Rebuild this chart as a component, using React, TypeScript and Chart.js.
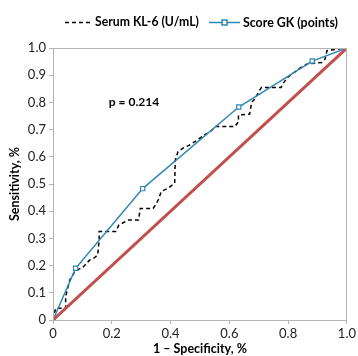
import React, { useEffect, useRef } from "react";
import { Chart, registerables } from "chart.js";

Chart.register(...registerables);

const klX = [0, 0.009, 0.043, 0.043, 0.057, 0.074, 0.09, 0.1, 0.124, 0.14, 0.152, 0.157, 0.157, 0.213, 0.224, 0.258, 0.291, 0.297, 0.341, 0.358, 0.368, 0.391, 0.414, 0.416, 0.425, 0.441, 0.464, 0.492, 0.514, 0.535, 0.552, 0.619, 0.631, 0.631, 0.669, 0.676, 0.686, 0.709, 0.776, 0.782, 0.798, 0.836, 0.865, 0.915, 0.926, 0.932, 0.966, 1];
const klY = [0, 0.043, 0.043, 0.086, 0.147, 0.178, 0.188, 0.191, 0.22, 0.228, 0.239, 0.294, 0.325, 0.325, 0.349, 0.368, 0.368, 0.41, 0.41, 0.441, 0.472, 0.484, 0.503, 0.588, 0.618, 0.631, 0.643, 0.662, 0.68, 0.692, 0.711, 0.711, 0.729, 0.754, 0.757, 0.8, 0.812, 0.855, 0.855, 0.868, 0.892, 0.923, 0.941, 0.947, 0.96, 0.99, 0.996, 1];
const gkX = [0, 0.077, 0.305, 0.632, 0.882, 1];
const gkY = [0, 0.19, 0.483, 0.783, 0.952, 1];
const refX = [0, 1];
const refY = [0, 1];
const seriesNames = ["Serum KL-6 (U/mL)", "Score GK (points)"];
const pText = "p = 0.214";
const xTitle = "1 \u2013 Specificity, %";
const yTitle = "Sensitivity, %";

const FONT = "Lato, 'Open Sans', sans-serif";
const BLUE = "#2F86B3";
const RED = "#C0504D";

const pts = (xs: number[], ys: number[]) => xs.map((x, i) => ({ x, y: ys[i] }));

export default function App() {
  const ref = useRef<HTMLCanvasElement>(null);
  useEffect(() => {
    document.body.style.margin = "0";
    const fitText = (ctx: any, text: string, x: number, y: number, w: number) => {
      ctx.font = `bold 14px ${FONT}`;
      const m = ctx.measureText(text).width;
      const size = Math.min(15, (14 * w) / m);
      ctx.font = `bold ${size}px ${FONT}`;
      ctx.fillText(text, x, y);
    };
    const extra = {
      id: "extra",
      afterDraw(chart: any) {
        const ctx = chart.ctx;
        const a = chart.chartArea;
        const xs = chart.scales.x;
        const ys = chart.scales.y;
        ctx.save();
        ctx.strokeStyle = "#B4B4B4";
        ctx.lineWidth = 1;
        ctx.strokeRect(a.left + 0.5, a.top + 0.5, a.right - a.left - 1, a.bottom - a.top);
        // p text
        ctx.fillStyle = "#000";
        ctx.font = `bold 12px ${FONT}`;
        ctx.textAlign = "left";
        ctx.textBaseline = "middle";
        ctx.fillText(pText, xs.getPixelForValue(0.19), ys.getPixelForValue(0.8));
        // legend
        const ly = 22.5;
        ctx.strokeStyle = "#000";
        ctx.lineWidth = 1.5;
        ctx.setLineDash([4, 3]);
        ctx.beginPath();
        ctx.moveTo(65, ly);
        ctx.lineTo(90, ly);
        ctx.stroke();
        ctx.setLineDash([]);
        fitText(ctx, seriesNames[0], 95, ly, 104);
        ctx.strokeStyle = BLUE;
        ctx.beginPath();
        ctx.moveTo(209, ly);
        ctx.lineTo(240, ly);
        ctx.stroke();
        ctx.fillStyle = "#fff";
        ctx.fillRect(222, ly - 2.5, 5, 5);
        ctx.strokeRect(222, ly - 2.5, 5, 5);
        ctx.fillStyle = "#000";
        fitText(ctx, seriesNames[1], 243, ly, 95);
        ctx.restore();
      },
    };
    const chart = new Chart(ref.current!, {
      type: "line",
      data: {
        datasets: [
          {
            label: seriesNames[0],
            data: pts(klX, klY),
            borderColor: "#000",
            borderWidth: 1.5,
            borderDash: [4, 3],
            pointRadius: 0,
            tension: 0,
            order: 2,
          },
          {
            label: seriesNames[1],
            data: pts(gkX, gkY),
            borderColor: BLUE,
            borderWidth: 1.5,
            pointStyle: "rect",
            pointRadius: 3,
            pointBorderWidth: 1.2,
            pointBackgroundColor: "#fff",
            pointBorderColor: BLUE,
            tension: 0,
            order: 1,
          },
          {
            label: "ref",
            data: pts(refX, refY),
            borderColor: RED,
            borderWidth: 3,
            pointRadius: 0,
            order: 0,
          },
        ],
      },
      options: {
        animation: false,
        responsive: false,
        layout: { padding: { top: 48, right: 6, left: 0, bottom: 0 } },
        plugins: { legend: { display: false }, tooltip: { enabled: false } },
        scales: {
          x: {
            type: "linear",
            min: 0,
            max: 1,
            afterFit: (s: any) => { s.height = 36; },
            grid: { display: true, drawOnChartArea: false, drawTicks: true, tickLength: 4, color: "#B4B4B4" },
            border: { display: false },
            ticks: {
              stepSize: 0.2,
              padding: 2,
              color: "#222",
              font: { family: FONT, size: 13 },
              callback: (v: any) => (v === 0 ? "0" : Number(v).toFixed(1)),
            },
            title: { display: true, text: xTitle, color: "#000", font: { family: FONT, size: 12.5, weight: "bold" }, padding: { top: 0, bottom: 0 } },
          },
          y: {
            type: "linear",
            min: 0,
            max: 1,
            afterFit: (s: any) => { s.width = 53; },
            grid: { display: true, drawOnChartArea: false, drawTicks: true, tickLength: 4, color: "#B4B4B4" },
            border: { display: false },
            ticks: {
              stepSize: 0.1,
              padding: 3,
              color: "#222",
              font: { family: FONT, size: 13 },
              callback: (v: any) => (v === 0 ? "0" : Number(v).toFixed(1)),
            },
            title: { display: true, text: yTitle, color: "#000", font: { family: FONT, size: 12.5, weight: "bold" }, padding: { top: 7, bottom: 0 } },
          },
        },
      },
      plugins: [extra],
    } as any);
    return () => chart.destroy();
  }, []);
  return (
    <div style={{ position: "fixed", left: 0, top: 0, width: 358, height: 356 }}>
      <canvas ref={ref} width={358} height={356} style={{ width: 358, height: 356 }} />
    </div>
  );
}
